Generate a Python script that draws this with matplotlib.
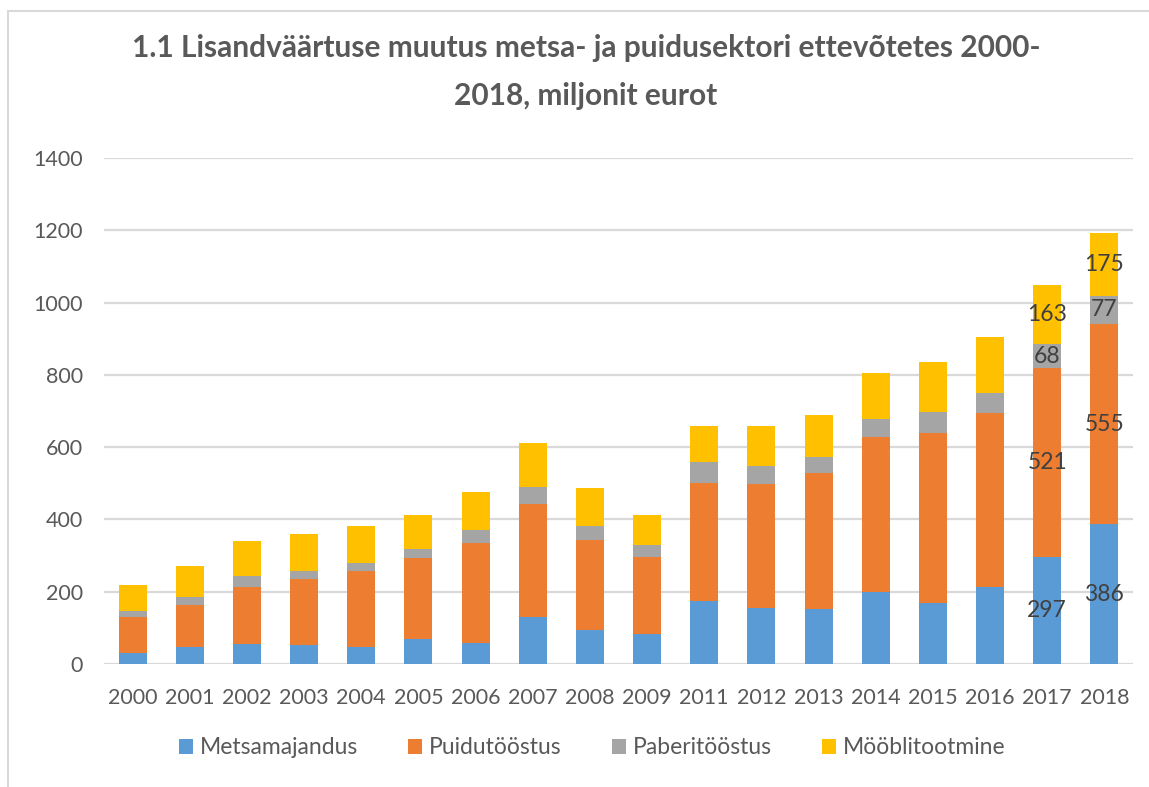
import numpy as np
import matplotlib.pyplot as plt
from matplotlib.patches import Rectangle

aastad = ["2000", "2001", "2002", "2003", "2004", "2005", "2006", "2007", "2008",
          "2009", "2011", "2012", "2013", "2014", "2015", "2016", "2017", "2018"]
metsamajandus = [30, 48, 55, 53, 48, 69, 58, 130, 95, 84, 173, 155, 152, 198, 169, 212, 297, 386]
puidutoostus = [100, 116, 159, 181, 210, 224, 278, 312, 247, 213, 329, 344, 376, 430, 471, 482, 521, 555]
paberitoostus = [18, 22, 29, 24, 22, 25, 36, 49, 40, 32, 57, 50, 46, 49, 57, 56, 68, 77]
mooblitootmine = [71, 86, 97, 103, 102, 93, 105, 121, 106, 82, 100, 110, 116, 127, 138, 156, 163, 175]

nimed = ["Metsamajandus", "Puidutööstus", "Paberitööstus", "Mööblitootmine"]
varvid = ["#5B9BD5", "#ED7D31", "#A5A5A5", "#FFC000"]
sildiga = ["2017", "2018"]   # ainult neil aastatel on väärtused kirjas

plt.rcParams['font.family'] = ['Lato', 'DejaVu Sans']
tekst = "#595959"

fig = plt.figure(figsize=(11.49, 7.87), dpi=100)
ax = fig.add_axes([104/1149, 1 - 664/787, (1133-104)/1149, (664-158)/787])

x = np.arange(len(aastad))
alus = np.zeros(len(aastad))
seeriad = [metsamajandus, puidutoostus, paberitoostus, mooblitootmine]
for vaartused, nimi, v in zip(seeriad, nimed, varvid):
    vaartused = np.array(vaartused, dtype=float)
    ax.bar(x, vaartused, 0.49, bottom=alus, color=v, label=nimi, zorder=3)
    for i, a in enumerate(aastad):
        if a in sildiga:
            ax.text(x[i], alus[i] + vaartused[i] / 2, str(int(vaartused[i])),
                    ha='center', va='center', fontsize=16.5, color="#404040", zorder=4)
    alus = alus + vaartused

ax.set_xlim(-0.5, len(aastad) - 0.5)
ax.set_ylim(0, 1400)
ax.set_yticks(range(0, 1401, 200))
ax.set_xticks(x)
ax.set_xticklabels(aastad)
ax.tick_params(axis='both', length=0, labelsize=15.5, labelcolor=tekst)
ax.tick_params(axis='y', pad=15)
ax.tick_params(axis='x', pad=17)
ax.grid(axis='y', color="#D9D9D9", linewidth=1.6, zorder=0)
for s in ax.spines.values():
    s.set_visible(False)

fig.suptitle("1.1 Lisandväärtuse muutus metsa- ja puidusektori ettevõtetes 2000-\n2018, miljonit eurot",
             x=586/1149, y=1 - 34/787, fontsize=21.5, fontweight='bold', color=tekst,
             linespacing=1.85, va='top')

fig.legend(loc='center', bbox_to_anchor=(592/1149, 1 - 748/787), ncol=4, frameon=False,
           fontsize=16.5, labelcolor=tekst, handlelength=0.6, handleheight=0.6,
           handletextpad=0.3, columnspacing=2.2)

# ääris nagu Exceli diagrammil
fig.patches.append(Rectangle((8/1149, -0.1), 1.2, 1 - 11/787 + 0.1, transform=fig.transFigure,
                             fill=False, edgecolor="#D9D9D9", linewidth=1.5))

fig.savefig("out.png", dpi=100)
